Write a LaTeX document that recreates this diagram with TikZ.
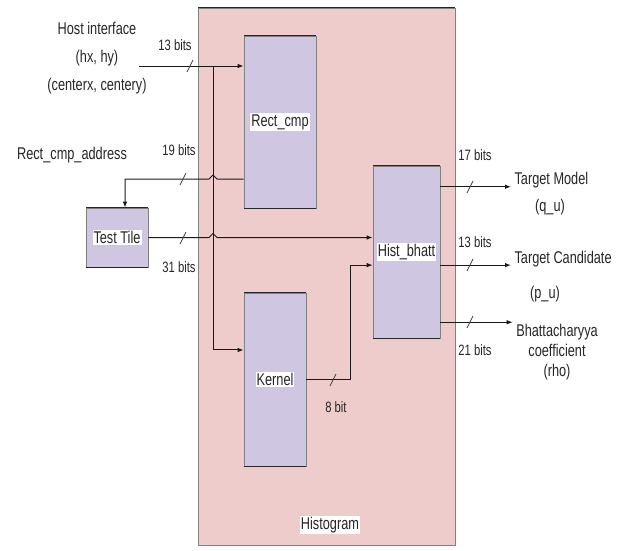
\documentclass[tikz,border=0pt]{standalone}
\usepackage{fontspec}
\setmainfont{Liberation Sans}[FakeStretch=0.75]
\usepackage{tikz}
\usetikzlibrary{arrows.meta,positioning,calc}

\definecolor{histpink}{RGB}{238,204,204}
\definecolor{blocklav}{RGB}{207,199,225}

\tikzset{
  block/.style={draw=black!50, fill=blocklav, line width=0.6pt, inner sep=0pt},
  blabel/.style={fill=white, inner sep=1pt},
  edge/.style={draw=black!85, line width=1.3pt},
  sig/.style={draw=black!90, line width=1pt},
  sigarrow/.style={sig, -{Latex[length=6pt,width=4.5pt]}},
  bits/.style={font=\fontsize{15}{18}\selectfont},
  busmark/.style={draw=black!75, line width=0.7pt},
}

\begin{document}
\begin{tikzpicture}[x=1pt,y=-1pt,font=\fontsize{17}{20}\selectfont,text=black!85]
  \useasboundingbox (0,0) rectangle (621,550);

  % histogram module
  \node[draw=black!50, fill=histpink, line width=0.6pt, minimum width=257pt, minimum height=537pt] (histo) at (326.5,276.5) {};
  \draw[edge] (histo.north west) -- (histo.north east);
  \node[blabel] (histolbl) at (330,525) {Histogram};

  % blocks
  \node[block, minimum width=72pt, minimum height=172pt, label={[blabel]center:Rect\_cmp}] (rect) at (280,122) {};
  \node[block, minimum width=62pt, minimum height=59pt, label={[blabel]center:Test Tile}] (tile) at (117,237.5) {};
  \node[block, minimum width=67pt, minimum height=172pt, label={[blabel]center:Hist\_bhatt}] (hist) at (406.5,252) {};
  \node[block, minimum width=62pt, minimum height=173pt, label={[blabel]center:Kernel}] (kern) at (275,379.5) {};
  \foreach \b in {rect,tile,hist,kern} {
    \draw[edge] (\b.north west) -- (\b.north east);
    \draw[edge] (\b.south west) -- (\b.south east);
  }

  % inputs
  \node[align=center, font=\fontsize{17}{28}\selectfont] (hostlbl) at (97,58) {Host interface\\(hx, hy)\\(centerx, centery)};
  \node (addrlbl) at (72,155) {Rect\_cmp\_address};

  \coordinate (host) at (139,66);
  \coordinate (split) at (213,66);
  \coordinate (addr) at (125,179);
  \coordinate (hopA) at (split |- addr);
  \coordinate (hopB) at (split |- tile.east);
  \coordinate (kjog) at (350,0);
  \coordinate (kin) at ($(hist.north west)!0.576!(hist.south west)$);

  \draw[sigarrow] (host) -- (host -| rect.west);
  \draw[sigarrow] (split) |- ($(kern.north west)!0.33!(kern.south west)$);
  \draw[sigarrow] (addr -| rect.west) -- ([xshift=4pt]hopA) -- ([yshift=4pt]hopA) -- ([xshift=-4pt]hopA) -- (addr) -- (addr |- tile.north);
  \draw[sigarrow] (tile.east) -- ([xshift=-4pt]hopB) -- ([yshift=4pt]hopB) -- ([xshift=4pt]hopB) -- (tile.east -| hist.west);
  \draw[sigarrow] (kern.east) -- (kern.east -| kjog) |- (kin);

  % outputs
  \foreach \f/\o in {0.122/out1, 0.576/out2, 0.907/out3}
    \coordinate (\o) at ($(hist.north east)!\f!(hist.south east)$);
  \node[anchor=west] (tmodel) at (511,180) {Target Model};
  \node (tmodelq) at (550,207) {(q\_u)};
  \node[anchor=west] (tcand) at (511,259) {Target Candidate};
  \node (tcandp) at (545,294) {(p\_u)};
  \node[align=center, anchor=north] (bcoef) at (557,321) {Bhattacharyya\\coefficient\\(rho)};
  \draw[sigarrow] (out1) -- (out1 -| tmodel.west);
  \draw[sigarrow] (out2) -- (out2 -| tcand.west);
  \draw[sigarrow] (out3) -- (out3 -| bcoef.west);

  % bus widths
  \node[bits] (b13in) at (175,45) {13 bits};
  \node[bits] (b19) at (179,150) {19 bits};
  \node[bits] (b31) at (179,267) {31 bits};
  \node[bits] (b17) at (475,155) {17 bits};
  \node[bits] (b13out) at (475,242) {13 bits};
  \node[bits] (b21) at (475,350) {21 bits};
  \node[bits] (b8) at (336,407) {8 bit};
  \foreach \mx/\my in {190/66, 183/179, 183/238, 333/380, 470/187, 470/265, 470/322}
    \draw[busmark] (\mx-3,\my+6) -- (\mx+3,\my-6);
\end{tikzpicture}
\end{document}
